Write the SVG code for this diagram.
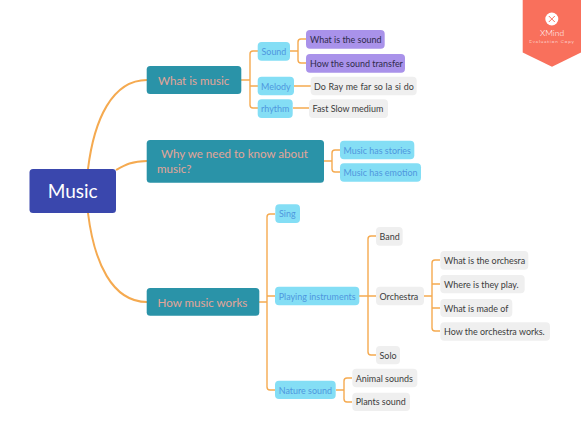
<svg xmlns="http://www.w3.org/2000/svg" width="581" height="443" viewBox="0 0 581 443">
<style>
text{font-family:"Lato","Noto Sans","Liberation Sans",sans-serif;font-size:8.950px;dominant-baseline:central}
.c{fill:none;stroke:#f5aa50;stroke-width:1.400}
.m{stroke-width:2}
.t{fill:#2a93a8}.t+text,.h{fill:#e3a598;font-size:11.600px}
.b{fill:#84def5}.b+text{fill:#4f97de}
.p{fill:#a992ea}.p+text{fill:#2f2a4a}
.g{fill:#efefef}.g+text{fill:#3c3c3c}
</style>
<rect width="581" height="443" fill="#fff"/>
<g id="connectors">
<path class="c m" d="M88 169C94 120 112 80 147 80"/>
<path class="c m" d="M116 170C125 165 132 161 147 161"/>
<path class="c m" d="M88 213C94 262 112 302 147 302"/>
<path class="c" d="M241 80H250M258 51H253Q250 51 250 54V105Q250 108 253 108H258M250 86H258"/>
<path class="c" d="M290 51H298M306 39H301Q298 39 298 42V60Q298 63 301 63H306"/>
<path class="c" d="M294 86H311M293 108H309"/>
<path class="c" d="M324 161H332M340 150H335Q332 150 332 153V169Q332 172 335 172H340"/>
<path class="c" d="M259 302H267M275 214H270Q267 214 267 217V387Q267 390 270 390H275M267 296H275"/>
<path class="c" d="M359 296H376M376 236H371Q368 236 368 239V352Q368 355 371 355H376"/>
<path class="c" d="M336 390H344M352 378H347Q344 378 344 381V399Q344 402 347 402H352"/>
<path class="c" d="M424 296H432M440 260H435Q432 260 432 263V328Q432 331 435 331H440M432 284H440M432 308H440"/>
</g>
<g id="root"><rect x="29.500" y="169" width="86.500" height="44" rx="3.500" fill="#3a47ad"/><text x="72.700" y="190.500" text-anchor="middle" fill="#fff" style="font-size:19px">Music</text></g>
<g id="n1"><rect class="t" x="146.700" y="66" width="94.600" height="28" rx="3.500"/><text x="158" y="80">What is music</text></g>
<g id="n2"><rect class="t" x="146.700" y="140" width="177.300" height="42.700" rx="3.500"/><text x="161" y="153.500">Why we need to know about</text><text class="h" x="157" y="168.500">music?</text></g>
<g id="n3"><rect class="t" x="146.700" y="288" width="112.600" height="27.700" rx="3.500"/><text x="157.500" y="302">How music works</text></g>
<g id="n4"><rect class="b" x="257.700" y="42" width="32.300" height="18.700" rx="4"/><text x="261.500" y="51.500">Sound</text></g>
<g id="n5"><rect class="p" x="306" y="30" width="78.700" height="18.700" rx="4"/><text x="310" y="39.500">What is the sound</text></g>
<g id="n6"><rect class="p" x="306" y="54" width="99" height="18.700" rx="4"/><text x="310" y="63.500">How the sound transfer</text></g>
<g id="n7"><rect class="b" x="257.700" y="76.700" width="36.300" height="18.600" rx="4"/><text x="261" y="86">Melody</text></g>
<g id="n8"><rect class="g" x="310.700" y="76.700" width="106" height="18.600" rx="4"/><text x="314" y="86" word-spacing=".5">Do Ray me far so la si do</text></g>
<g id="n9"><rect class="b" x="257.700" y="99.300" width="35" height="18.700" rx="4"/><text x="261" y="108.700">rhythm</text></g>
<g id="n10"><rect class="g" x="309" y="99.300" width="79" height="18.700" rx="4"/><text x="312.500" y="108.700">Fast Slow medium</text></g>
<g id="n11"><rect class="b" x="340" y="140.700" width="74.300" height="18.600" rx="4"/><text x="343.500" y="150">Music has stories</text></g>
<g id="n12"><rect class="b" x="340" y="163.300" width="81" height="18.400" rx="4"/><text x="343.500" y="172.500">Music has emotion</text></g>
<g id="n13"><rect class="b" x="275.300" y="204.300" width="24.700" height="18.700" rx="4"/><text x="279" y="213.700">Sing</text></g>
<g id="n14"><rect class="b" x="275" y="286.700" width="84.300" height="18.600" rx="4"/><text x="278.700" y="296">Playing instruments</text></g>
<g id="n15"><rect class="b" x="275" y="380.700" width="60.700" height="18.300" rx="4"/><text x="278.700" y="390">Nature sound</text></g>
<g id="n16"><rect class="g" x="376" y="227" width="26.700" height="18.700" rx="4"/><text x="379.500" y="236.500">Band</text></g>
<g id="n17"><rect class="g" x="376" y="286.700" width="48" height="18.600" rx="4"/><text x="379.500" y="296">Orchestra</text></g>
<g id="n18"><rect class="g" x="376" y="346" width="24" height="18.300" rx="4"/><text x="379.500" y="355.200">Solo</text></g>
<g id="n19"><rect class="g" x="352.300" y="368.700" width="65" height="18.600" rx="4"/><text x="355.700" y="378">Animal sounds</text></g>
<g id="n20"><rect class="g" x="352.300" y="392.700" width="57.700" height="18.300" rx="4"/><text x="355.700" y="401.800">Plants sound</text></g>
<g id="n21"><rect class="g" x="440.300" y="251" width="88" height="18.700" rx="4"/><text x="444" y="260.300">What is the orchesra</text></g>
<g id="n22"><rect class="g" x="440.300" y="275" width="84.400" height="18.300" rx="4"/><text x="444" y="284">Where is they play.</text></g>
<g id="n23"><rect class="g" x="440.300" y="299" width="72" height="18" rx="4"/><text x="444" y="308">What is made of</text></g>
<g id="n24"><rect class="g" x="440.300" y="322.300" width="109.700" height="18.400" rx="4"/><text x="444" y="331.500">How the orchestra works.</text></g>
<g id="badge"><path d="M522.700 0H581V52.500L552 66.700L522.700 52.500Z" fill="#f9705c"/><circle cx="551.800" cy="19" r="6.500" fill="#fff"/><path d="M548.800 16L554.800 22M554.800 16L548.800 22" stroke="#f9705c" stroke-width="1"/><text x="552" y="32.500" text-anchor="middle" fill="#fff" style="font-size:8.500px;font-weight:300">XMind</text><text x="552" y="40.500" text-anchor="middle" fill="#fff" style="font-size:4.600px;font-weight:300;letter-spacing:.9px">Evaluation Copy</text></g>
</svg>
